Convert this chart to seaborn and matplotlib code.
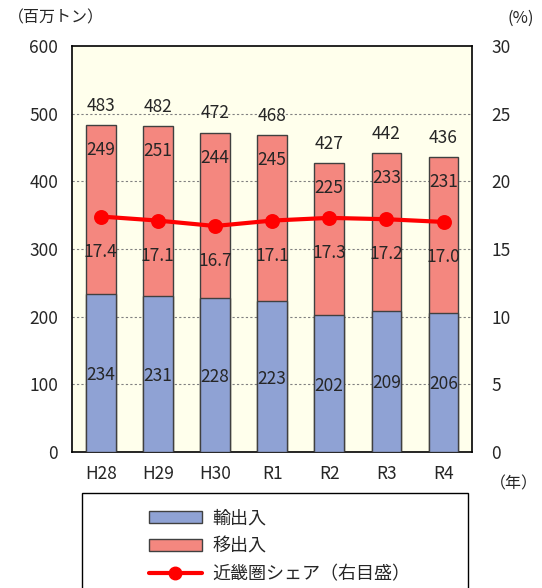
import numpy as np
import pandas as pd
import matplotlib
matplotlib.use("Agg")
import matplotlib.pyplot as plt
import seaborn as sns
from matplotlib.patches import Patch, Rectangle
from matplotlib.lines import Line2D

# データ
years = ['H28', 'H29', 'H30', 'R1', 'R2', 'R3', 'R4']
yushutsunyu = [234, 231, 228, 223, 202, 209, 206]   # 輸出入
ishutsunyu = [249, 251, 244, 245, 225, 233, 231]    # 移出入
totals = [483, 482, 472, 468, 427, 442, 436]
share = [17.4, 17.1, 16.7, 17.1, 17.3, 17.2, 17.0]  # 近畿圏シェア(%)

blue = '#8FA2D4'
pink = '#F4877F'

sns.set_style('white')
plt.rcParams['font.family'] = ['Noto Sans CJK JP', 'DejaVu Sans']
plt.rcParams['font.size'] = 12.5
fs = 12.5

df = pd.DataFrame({'year': years, 'yushutsu': yushutsunyu,
                   'total': totals, 'share': share})

fig = plt.figure(figsize=(5.42, 5.88), dpi=100)
ax = fig.add_axes([0.133, 0.231, 0.738, 0.691])
ax.set_facecolor('#FFFFEC')

# 積み上げ棒（合計を赤で描いてから輸出入を青で重ねる）
sns.barplot(data=df, x='year', y='total', color=pink, width=0.52,
            edgecolor='#404040', linewidth=1, saturation=1, ax=ax, zorder=2)
sns.barplot(data=df, x='year', y='yushutsu', color=blue, width=0.52,
            edgecolor='#404040', linewidth=1, saturation=1, ax=ax, zorder=3)

ax.set_ylim(0, 600)
ax.set_yticks(range(0, 601, 100))
ax.set_xlim(-0.5, len(years) - 0.5)
ax.set_xlabel('')
ax.set_ylabel('')
for y in range(100, 600, 100):
    ax.axhline(y, color='#808080', lw=0.8, ls=(0, (2, 2)), zorder=1)
for s in ax.spines.values():
    s.set_color('black')
    s.set_linewidth(1.2)
ax.tick_params(axis='y', length=0, pad=10, labelsize=fs)
ax.tick_params(axis='x', length=0, pad=9, labelsize=fs)
ax.set_xticks(np.arange(0.5, len(years) - 1, 1), minor=True)
ax.tick_params(axis='x', which='minor', length=4, direction='in', width=1)

# ラベル
for i in range(len(years)):
    ax.text(i, totals[i] + 15, str(totals[i]), ha='center', va='bottom', fontsize=fs)
    ax.text(i, totals[i] - 37, str(ishutsunyu[i]), ha='center', va='center',
            fontsize=fs, zorder=5)
    ax.text(i, yushutsunyu[i] / 2 - 3, str(yushutsunyu[i]), ha='center', va='center',
            fontsize=fs, zorder=5)

# 右軸：近畿圏シェア
ax2 = ax.twinx()
sns.pointplot(x=years, y=share, color='#FF0000', markers='o', markersize=8.5,
              linewidth=3, ax=ax2, zorder=6)
ax2.set_ylim(0, 30)
ax2.set_yticks(range(0, 31, 5))
ax2.set_xlim(-0.5, len(years) - 0.5)
ax2.tick_params(axis='y', length=0, pad=14, labelsize=fs)
for s in ax2.spines.values():
    s.set_visible(False)
for i, v in enumerate(share):
    ax2.text(i, v - 2.6, f'{v:.1f}', ha='center', va='center', fontsize=fs, zorder=7)

# 単位
fig.text(8 / 542, 1 - 18 / 588, '（百万トン）', ha='left', va='center', fontsize=11.5)
fig.text(534 / 542, 1 - 18 / 588, '(%)', ha='right', va='center', fontsize=12)
fig.text(538 / 542, 1 - 484 / 588, '（年）', ha='right', va='center', fontsize=11.5)

# 凡例
fig.patches.append(Rectangle((82 / 542, -0.05), 386 / 542, 0.05 + 1 - 493 / 588,
                             transform=fig.transFigure, fill=False,
                             edgecolor='black', linewidth=1))
handles = [Patch(facecolor=blue, edgecolor='#404040'),
           Patch(facecolor=pink, edgecolor='#404040'),
           Line2D([], [], color='#FF0000', lw=3, marker='o', markersize=9)]
labels = ['輸出入', '移出入', '近畿圏シェア（右目盛）']
fig.legend(handles, labels, loc='upper left',
           bbox_to_anchor=(133 / 542, 1 - 493 / 588), frameon=False,
           handlelength=2.9, handleheight=0.7, labelspacing=0.55,
           handletextpad=0.6, fontsize=13)

fig.savefig('out.png', dpi=100)
